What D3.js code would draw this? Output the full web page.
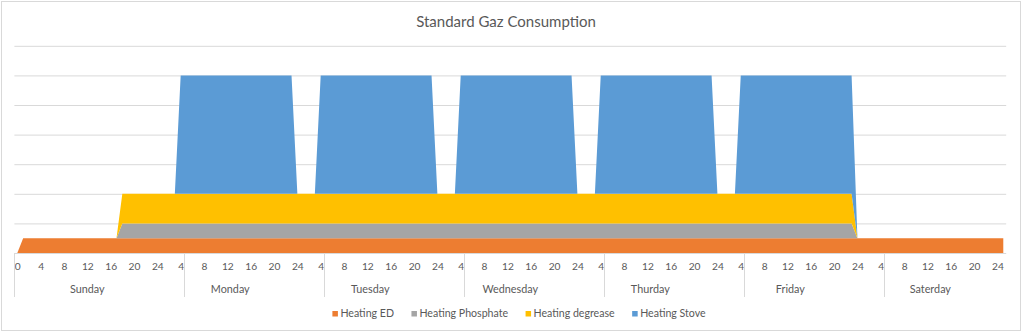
<!DOCTYPE html>
<html>
<head>
<meta charset="utf-8">
<script src="https://cdn.jsdelivr.net/npm/d3@7"></script>
<style>
  html, body { margin: 0; padding: 0; background: #fff; }
  svg { display: block; }
  text { font-family: Lato, "Open Sans", sans-serif; fill: #595959; }
</style>
</head>
<body>
<svg id="chart" width="1024" height="333"></svg>
<script>
// ---------------- DATA ----------------
const title = "Standard Gaz Consumption";
const seriesNames = ["Heating ED", "Heating Phosphate", "Heating degrease", "Heating Stove"];
const seriesColors = ["#ED7D31", "#A5A5A5", "#FFC000", "#5B9BD5"];

// hour label of each category (170 categories)
const hourLabels = [
  0,1,2,3,4,5,6,7,8,9,10,11,12,13,14,15,16,17,18,19,20,21,22,23,24,
  1,2,3,4,5,6,7,8,9,10,11,12,13,14,15,16,17,18,19,20,21,22,23,24,
  1,2,3,4,5,6,7,8,9,10,11,12,13,14,15,16,17,18,19,20,21,22,23,24,
  1,2,3,4,5,6,7,8,9,10,11,12,13,14,15,16,17,18,19,20,21,22,23,24,
  1,2,3,4,5,6,7,8,9,10,11,12,13,14,15,16,17,18,19,20,21,22,23,24,
  1,2,3,4,5,6,7,8,9,10,11,12,13,14,15,16,17,18,19,20,21,22,23,24,
  1,2,3,4,5,6,7,8,9,10,11,12,13,14,15,16,17,18,19,20,21,22,23,24,
  1
];

const dayNames = ["Sunday", "Monday", "Tuesday", "Wednesday", "Thurday", "Friday", "Saterday"];
// category span (first, last) of each day's hours, used for centring the day names
const dayFirstIdx = [0, 25, 49, 73, 97, 121, 145];
const dayLastIdx  = [24, 48, 72, 96, 120, 144, 168];
// category index where each group separator line sits (before that category)
const dayBoundaryIdx = [0, 29, 53, 77, 101, 125, 149];

const heatingED = [
  0,.5,.5,.5,.5,.5,.5,.5,.5,.5,.5,.5,.5,.5,.5,.5,.5,.5,.5,.5,.5,.5,.5,.5,.5,
  .5,.5,.5,.5,.5,.5,.5,.5,.5,.5,.5,.5,.5,.5,.5,.5,.5,.5,.5,.5,.5,.5,.5,.5,
  .5,.5,.5,.5,.5,.5,.5,.5,.5,.5,.5,.5,.5,.5,.5,.5,.5,.5,.5,.5,.5,.5,.5,.5,
  .5,.5,.5,.5,.5,.5,.5,.5,.5,.5,.5,.5,.5,.5,.5,.5,.5,.5,.5,.5,.5,.5,.5,.5,
  .5,.5,.5,.5,.5,.5,.5,.5,.5,.5,.5,.5,.5,.5,.5,.5,.5,.5,.5,.5,.5,.5,.5,.5,
  .5,.5,.5,.5,.5,.5,.5,.5,.5,.5,.5,.5,.5,.5,.5,.5,.5,.5,.5,.5,.5,.5,.5,.5,
  .5,.5,.5,.5,.5,.5,.5,.5,.5,.5,.5,.5,.5,.5,.5,.5,.5,.5,.5,.5,.5,.5,.5,.5,
  .5
];

const heatingPhosphate = [
  0,0,0,0,0,0,0,0,0,0,0,0,0,0,0,0,0,0,.5,.5,.5,.5,.5,.5,.5,
  .5,.5,.5,.5,.5,.5,.5,.5,.5,.5,.5,.5,.5,.5,.5,.5,.5,.5,.5,.5,.5,.5,.5,.5,
  .5,.5,.5,.5,.5,.5,.5,.5,.5,.5,.5,.5,.5,.5,.5,.5,.5,.5,.5,.5,.5,.5,.5,.5,
  .5,.5,.5,.5,.5,.5,.5,.5,.5,.5,.5,.5,.5,.5,.5,.5,.5,.5,.5,.5,.5,.5,.5,.5,
  .5,.5,.5,.5,.5,.5,.5,.5,.5,.5,.5,.5,.5,.5,.5,.5,.5,.5,.5,.5,.5,.5,.5,.5,
  .5,.5,.5,.5,.5,.5,.5,.5,.5,.5,.5,.5,.5,.5,.5,.5,.5,.5,.5,.5,.5,.5,.5,0,
  0,0,0,0,0,0,0,0,0,0,0,0,0,0,0,0,0,0,0,0,0,0,0,0,
  0
];

const heatingDegrease = [
  0,0,0,0,0,0,0,0,0,0,0,0,0,0,0,0,0,0,1,1,1,1,1,1,1,
  1,1,1,1,1,1,1,1,1,1,1,1,1,1,1,1,1,1,1,1,1,1,1,1,
  1,1,1,1,1,1,1,1,1,1,1,1,1,1,1,1,1,1,1,1,1,1,1,1,
  1,1,1,1,1,1,1,1,1,1,1,1,1,1,1,1,1,1,1,1,1,1,1,1,
  1,1,1,1,1,1,1,1,1,1,1,1,1,1,1,1,1,1,1,1,1,1,1,1,
  1,1,1,1,1,1,1,1,1,1,1,1,1,1,1,1,1,1,1,1,1,1,1,0,
  0,0,0,0,0,0,0,0,0,0,0,0,0,0,0,0,0,0,0,0,0,0,0,0,
  0
];

const heatingStove = [
  0,0,0,0,0,0,0,0,0,0,0,0,0,0,0,0,0,0,0,0,0,0,0,0,0,
  0,0,0,4,4,4,4,4,4,4,4,4,4,4,4,4,4,4,4,4,4,4,4,0,
  0,0,0,4,4,4,4,4,4,4,4,4,4,4,4,4,4,4,4,4,4,4,4,0,
  0,0,0,4,4,4,4,4,4,4,4,4,4,4,4,4,4,4,4,4,4,4,4,0,
  0,0,0,4,4,4,4,4,4,4,4,4,4,4,4,4,4,4,4,4,4,4,4,0,
  0,0,0,4,4,4,4,4,4,4,4,4,4,4,4,4,4,4,4,4,4,4,4,0,
  0,0,0,0,0,0,0,0,0,0,0,0,0,0,0,0,0,0,0,0,0,0,0,0,
  0
];

const yTicks = [0, 1, 2, 3, 4, 5, 6, 7];
const xLabelEvery = 4;

// ---------------- CHART ----------------
const seriesValues = [heatingED, heatingPhosphate, heatingDegrease, heatingStove];
const n = hourLabels.length;
seriesValues.forEach((s, k) => { if (s.length !== n) throw new Error(seriesNames[k] + " length " + s.length); });

const table = hourLabels.map((h, i) => {
  const row = { idx: i };
  seriesNames.forEach((name, k) => row[name] = seriesValues[k][i]);
  return row;
});

const svg = d3.select("#chart");
const plot = { left: 14.4, right: 1006.2, top: 45.8, bottom: 253 };

// chart border
svg.append("rect")
  .attr("x", 1.5).attr("y", 1.5).attr("width", 1019).attr("height", 329)
  .attr("fill", "#fff").attr("stroke", "#d9d9d9").attr("stroke-width", 1);

const x = d3.scalePoint().domain(d3.range(n)).range([plot.left, plot.right]).padding(0.5);
const step = x.step();
const y = d3.scaleLinear().domain([0, 7]).range([plot.bottom, plot.top]);

// gridlines
const grid = svg.append("g").attr("transform", `translate(${plot.left},0)`)
  .call(d3.axisLeft(y).tickValues(yTicks.slice(1)).tickSize(-(plot.right - plot.left)).tickFormat(""));
grid.select(".domain").remove();
grid.selectAll(".tick line").attr("stroke", "#d9d9d9").attr("stroke-width", 1);

// stacked areas
const stack = d3.stack().keys(seriesNames);
const layers = stack(table);
const area = d3.area()
  .x(d => x(d.data.idx))
  .y0(d => y(d[0]))
  .y1(d => y(d[1]));

svg.append("g").selectAll("path").data(layers).join("path")
  .attr("d", area)
  .attr("fill", (d, i) => seriesColors[i]);

// x axis line
svg.append("line")
  .attr("x1", plot.left).attr("x2", plot.right)
  .attr("y1", plot.bottom + 0.5).attr("y2", plot.bottom + 0.5)
  .attr("stroke", "#d9d9d9").attr("stroke-width", 1);

// hour labels
const xAxis = svg.append("g").attr("transform", `translate(0,${plot.bottom})`)
  .call(d3.axisBottom(x)
    .tickValues(d3.range(0, n, xLabelEvery))
    .tickSize(0).tickPadding(10)
    .tickFormat(i => hourLabels[i]));
xAxis.select(".domain").remove();
xAxis.selectAll("text")
  .attr("font-family", "Lato, 'Open Sans', sans-serif")
  .attr("font-size", 10.2)
  .attr("fill", "#595959");

// group separator lines
svg.append("g").selectAll("line").data(dayBoundaryIdx).join("line")
  .attr("x1", i => Math.round(x(i) - step / 2) + 0.5)
  .attr("x2", i => Math.round(x(i) - step / 2) + 0.5)
  .attr("y1", plot.bottom).attr("y2", 297)
  .attr("stroke", "#d9d9d9").attr("stroke-width", 1);

// day names
svg.append("g").selectAll("text").data(dayNames).join("text")
  .attr("x", (d, k) => (x(dayFirstIdx[k]) + x(dayLastIdx[k])) / 2)
  .attr("y", 293)
  .attr("text-anchor", "middle")
  .attr("font-size", 10.8)
  .text(d => d);

// title
svg.append("text")
  .attr("x", 506).attr("y", 27)
  .attr("text-anchor", "middle")
  .attr("font-size", 15)
  .text(title);

// legend
const legend = svg.append("g");
const items = legend.selectAll("g").data(seriesNames).join("g");
items.append("rect").attr("width", 5.5).attr("height", 5.5).attr("y", 311)
  .attr("fill", (d, i) => seriesColors[i]);
items.append("text").attr("x", 8).attr("y", 316.5).attr("font-size", 10.6).text(d => d);
const widths = [];
items.each(function () { widths.push(8 + this.querySelector("text").getComputedTextLength()); });
const gap = 17.5;
const total = d3.sum(widths) + gap * (widths.length - 1);
const start = 519 - total / 2;
items.attr("transform", (d, i) => `translate(${start + d3.sum(widths.slice(0, i)) + gap * i},0)`);
</script>
</body>
</html>
